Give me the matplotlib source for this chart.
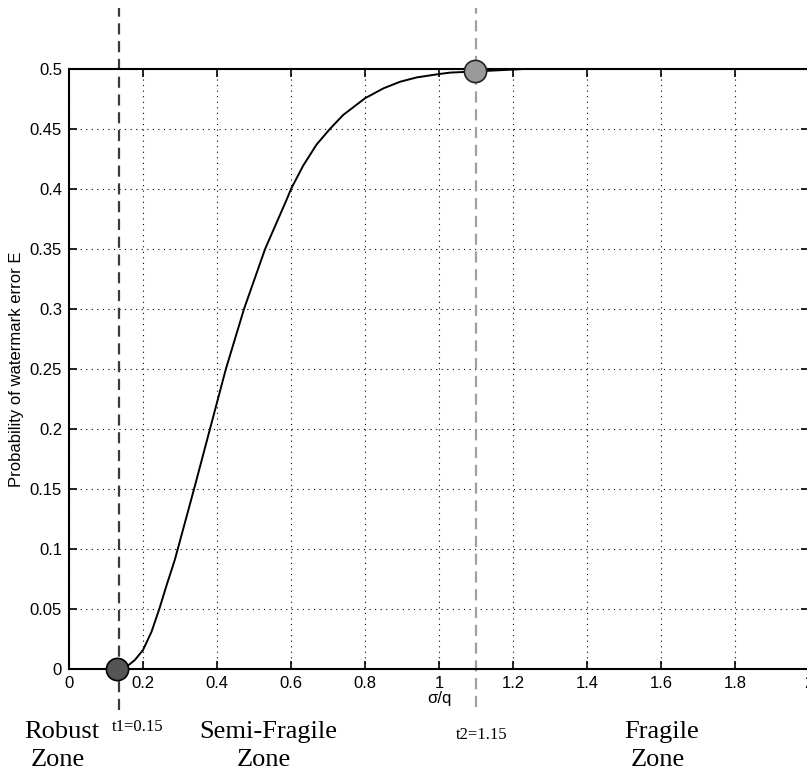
import numpy as np
import matplotlib
matplotlib.use("Agg")
import matplotlib.pyplot as plt

# curve
sigma_q = [0.13, 0.156, 0.178, 0.20, 0.223, 0.244, 0.264, 0.286, 0.338, 0.381, 0.424,
           0.473, 0.530, 0.588, 0.60, 0.633, 0.669, 0.705, 0.741, 0.80, 0.85,
           0.895, 0.94, 1.0, 1.03, 1.1, 1.23]
p_error = [0.0, 0.002, 0.0075, 0.0158, 0.031, 0.05, 0.07, 0.091, 0.15, 0.20, 0.25,
           0.30, 0.35, 0.391, 0.40, 0.4195, 0.437, 0.45, 0.4617, 0.4756, 0.4839,
           0.4894, 0.493, 0.4958, 0.497, 0.498, 0.5]

t1_x, t2_x = 0.135, 1.10
t1_pt = (0.129, 0.0)
t2_pt = (1.097, 0.498)

x_ticks = [0, 0.2, 0.4, 0.6, 0.8, 1, 1.2, 1.4, 1.6, 1.8, 2]
y_ticks = [0, 0.05, 0.1, 0.15, 0.2, 0.25, 0.3, 0.35, 0.4, 0.45, 0.5]

zone_top = ["Robust", "Semi-Fragile", "Fragile"]
zone_bottom = ["Zone", "Zone", "Zone"]
thr_labels = ["t1=0.15", "t2=1.15"]

W, H = 807, 773
fig = plt.figure(figsize=(W / 100, H / 100), dpi=100)
ax = fig.add_axes([69 / W, 1 - 669 / H, 740 / W, 600 / H])

ax.plot(sigma_q, p_error, color="black", lw=1.4, zorder=3)

# threshold lines, running past the axes
ax.plot([t1_x, t1_x], [-0.034, 0.551], color="#3a3a3a", lw=1.6,
        dashes=(5, 3), clip_on=False, zorder=2)
ax.plot([t2_x, t2_x], [-0.032, 0.551], color="#a0a0a0", lw=1.6,
        dashes=(5, 3), clip_on=False, zorder=2)

ax.plot(*t1_pt, "o", ms=16, mfc="#555555", mec="black", mew=1.2,
        clip_on=False, zorder=5)
ax.plot(*t2_pt, "o", ms=16, mfc="#9a9a9a", mec="#222222", mew=1.2,
        clip_on=False, zorder=5)

ax.set_xlim(0, 2)
ax.set_ylim(0, 0.5)
ax.set_xticks(x_ticks)
ax.set_xticklabels([f"{v:g}" for v in x_ticks])
ax.set_yticks(y_ticks)
ax.set_yticklabels([f"{v:g}" for v in y_ticks])
ax.grid(True, color="black", linestyle=(0, (1, 4)), lw=0.8)
ax.tick_params(direction="in", length=6, width=1.2, top=True, right=True,
               labelsize=12, pad=5)
for lab in ax.get_xticklabels() + ax.get_yticklabels():
    lab.set_fontfamily("Liberation Sans")
for s in ax.spines.values():
    s.set_linewidth(1.5)

ax.set_xlabel("σ/q", fontsize=12, family="Liberation Sans", labelpad=0)
ax.set_ylabel("Probability of watermark error E", fontsize=12,
              family="Liberation Sans", labelpad=4)

# zone and threshold labels under the axis
zone_x = [62, 268, 662]
for top, bot, px in zip(zone_top, zone_bottom, zone_x):
    fig.text(px / W, 1 - 732 / H, top, ha="center", va="center",
             family="Liberation Serif", fontsize=19)
    fig.text((px - 4) / W, 1 - 760 / H, bot, ha="center", va="center",
             family="Liberation Serif", fontsize=19)
thr_px = [(138, 727), (482, 735)]
for lbl, (px, py) in zip(thr_labels, thr_px):
    fig.text(px / W, 1 - py / H, lbl, ha="center", va="center",
             family="Liberation Serif", fontsize=12)

fig.savefig("out.png", dpi=100)
